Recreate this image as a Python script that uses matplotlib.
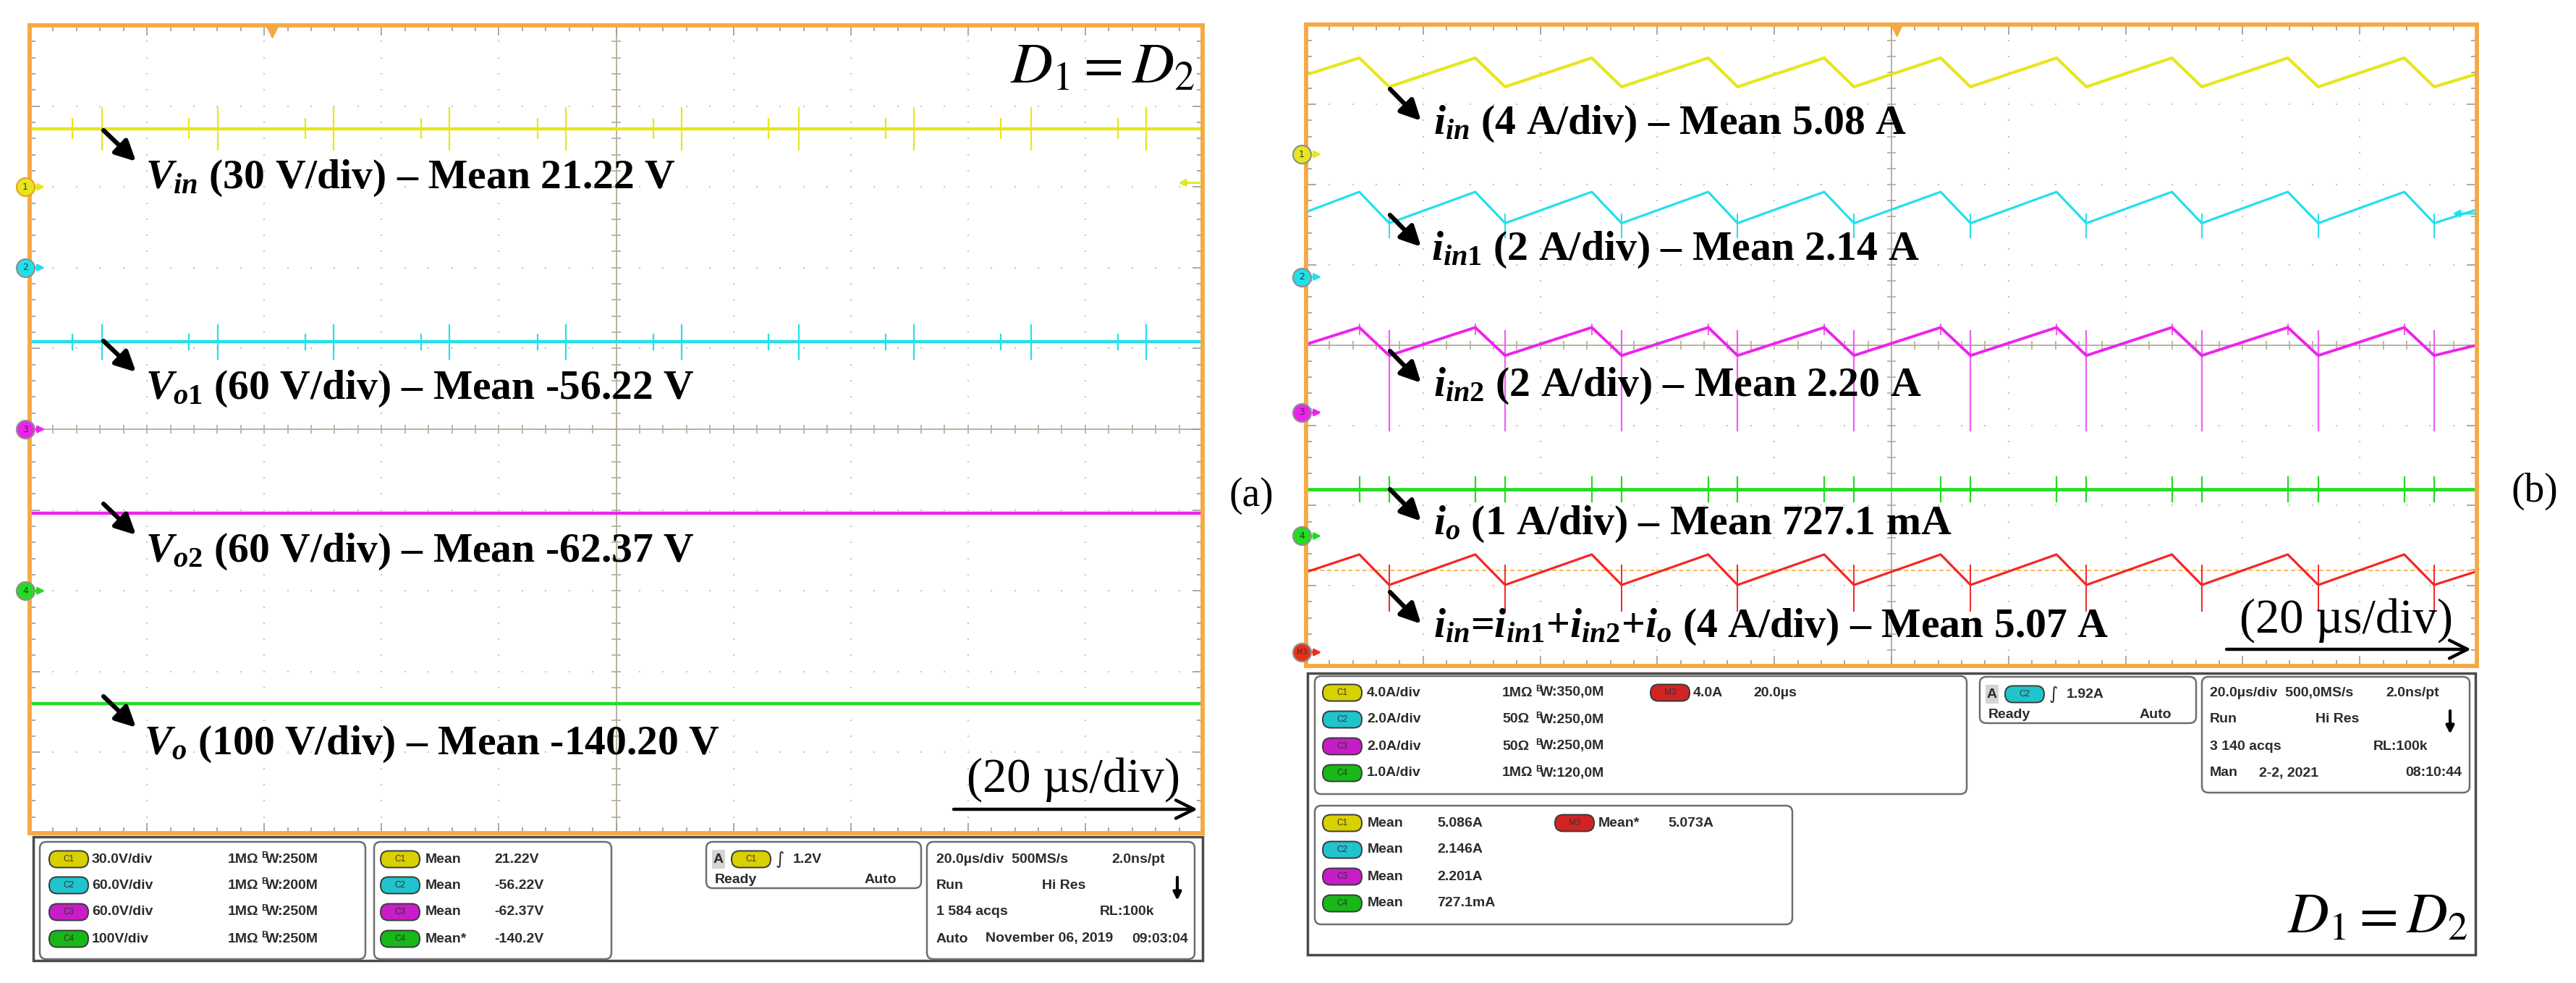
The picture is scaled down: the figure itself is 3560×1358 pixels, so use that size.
import numpy as np
import matplotlib
matplotlib.use('Agg')
import matplotlib.pyplot as plt
from matplotlib.patches import FancyBboxPatch, Rectangle

plt.rcParams['mathtext.fontset'] = 'custom'
plt.rcParams['mathtext.rm'] = 'Liberation Serif:bold'
plt.rcParams['mathtext.it'] = 'Liberation Serif:italic:bold'
plt.rcParams['mathtext.bf'] = 'Liberation Serif:bold'

W, H = 3560, 1358

# ---------------- data ----------------
# panel (a): DC levels in divisions from screen centre, 20 us/div
a_levels = [3.72, 1.08, -1.04, -3.40]          # Vin, Vo1, Vo2, Vo
a_marks = [3.0, 2.0, 0.0, -2.0]                # channel ground markers
a_big_spk_t = [12.3, 32.1, 51.8, 71.6, 91.4, 111.2, 131.2, 150.8, 170.8, 190.4]
a_small_spk_t = [7.3, 27.1, 47.0, 66.8, 86.6, 106.4, 126.0, 146.0, 165.6, 185.6]
a_big_amp = [0.27, 0.22, 0.0, 0.0]
a_small_amp = [0.13, 0.10, 0.0, 0.0]
a_labels = [r'$V_{in}$ (30 V/div) – Mean 21.22 V',
            r'$V_{o1}$ (60 V/div) – Mean -56.22 V',
            r'$V_{o2}$ (60 V/div) – Mean -62.37 V',
            r'$V_{o}$ (100 V/div) – Mean -140.20 V']

# panel (b): triangular currents, vertex times (us) and levels (div)
b_peak_t = [9.1, 28.9, 48.8, 68.7, 88.5, 108.4, 128.2, 147.9, 167.7, 187.6]
b_trough_t = [14.2, 34.0, 53.9, 73.7, 93.6, 113.5, 133.3, 153.0, 172.9, 192.7]
b_start = [3.37, 1.66, 0.01, -1.80, -2.83]
b_peak = [3.58, 1.91, 0.22, -1.80, -2.61]
b_trough = [3.22, 1.52, -0.13, -1.80, -2.99]
b_end = [3.38, 1.69, 0.00, -1.80, -2.82]
b_marks = [2.38, 0.85, -0.84, -2.38, -3.83]
b_labels = [r'$i_{in}$ (4 A/div) – Mean 5.08 A',
            r'$i_{in1}$ (2 A/div) – Mean 2.14 A',
            r'$i_{in2}$ (2 A/div) – Mean 2.20 A',
            r'$i_{o}$ (1 A/div) – Mean 727.1 mA',
            r'$i_{in}$=$i_{in1}$+$i_{in2}$+$i_{o}$ (4 A/div) – Mean 5.07 A']

a_setup = ['30.0V/div', '60.0V/div', '60.0V/div', '100V/div']
a_imp = ['1MΩ', '1MΩ', '1MΩ', '1MΩ']
a_bw = ['W:250M', 'W:200M', 'W:250M', 'W:250M']
a_meas = ['Mean', 'Mean', 'Mean', 'Mean*']
a_vals = ['21.22V', '-56.22V', '-62.37V', '-140.2V']
b_setup = ['4.0A/div', '2.0A/div', '2.0A/div', '1.0A/div']
b_imp = ['1MΩ', '50Ω', '50Ω', '1MΩ']
b_bw = ['W:350,0M', 'W:250,0M', 'W:250,0M', 'W:120,0M']
b_vals = ['5.086A', '2.146A', '2.201A', '727.1mA']

COLS = ['#E6E61E', '#22E0EA', '#EE22EE', '#22DD22', '#F52525']
BADGE = ['#D8D000', '#20C4CC', '#C81CC8', '#18B818', '#D02424']
ORANGE = '#F5A945'
TICK = '#9A9A9A'
CENTRE = '#B3AA98'
INFO = '#2B2B2B'


def px2fig(x0, y0, x1, y1):
    return [x0 / W, 1 - y1 / H, (x1 - x0) / W, (y1 - y0) / H]


fig = plt.figure(figsize=(W / 100, H / 100), dpi=100)
axa = fig.add_axes(px2fig(41, 35, 1662, 1151))
axb = fig.add_axes(px2fig(1805, 33.5, 3423, 920))
ov = fig.add_axes([0, 0, 1, 1])
ov.set_xlim(0, W)
ov.set_ylim(H, 0)
ov.axis('off')


def scope(ax, ndiv):
    half = ndiv / 2
    ax.set_xlim(0, 200)
    ax.set_ylim(-half, half)
    for s in ax.spines.values():
        s.set_color(ORANGE)
        s.set_linewidth(4.2)
        s.set_zorder(8)
    ax.set_xticks(np.arange(0, 201, 20))
    ax.set_xticks(np.arange(0, 201, 4), minor=True)
    ax.set_yticks(np.arange(-half, half + 0.01, 1))
    ax.set_yticks(np.arange(-half, half + 0.01, 0.2), minor=True)
    ax.tick_params(which='both', direction='in', top=True, right=True,
                   labelbottom=False, labelleft=False, color=TICK, width=1.2)
    ax.tick_params(which='major', length=10)
    ax.tick_params(which='minor', length=6)
    gx = np.arange(20, 200, 20)
    gy = np.arange(-half + 1, half, 1)
    mx = np.arange(4, 200, 4)
    my = np.arange(-half + 0.2, half - 0.1, 0.2)
    x1, y1 = np.meshgrid(gx, my)
    x2, y2 = np.meshgrid(mx, gy)
    ax.scatter(np.r_[x1.ravel(), x2.ravel()], np.r_[y1.ravel(), y2.ravel()],
               s=4, marker='s', color='#C4C4C4', lw=0, zorder=1)
    ax.axhline(0, color=CENTRE, lw=1.3, zorder=1)
    ax.axvline(100, color=CENTRE, lw=1.3, zorder=1)
    ax.vlines(mx, -0.055, 0.055, color=CENTRE, lw=1.2, zorder=1)
    ax.hlines(my, 99.25, 100.75, color=CENTRE, lw=1.2, zorder=1)


def chan_marker(ax, y, label, face, edge, wpx):
    tr = ax.get_yaxis_transform()
    ax.annotate('', xy=(24 / wpx, y), xytext=(2 / wpx, y), xycoords=tr, textcoords=tr,
                arrowprops=dict(arrowstyle='-|>', color=face, lw=2, mutation_scale=14),
                annotation_clip=False, zorder=9)
    ax.plot([-6 / wpx], [y], 'o', ms=18, mfc=face, mec=edge, mew=1.6,
            transform=tr, clip_on=False, zorder=10)
    ax.text(-6 / wpx, y, label, transform=tr, ha='center', va='center',
            fontsize=9 if len(label) == 1 else 7, color='#333333', zorder=11)


# ---------------- panel (a) ----------------
scope(axa, 10)
for i, lev in enumerate(a_levels):
    axa.axhline(lev, color=COLS[i], lw=3.2, zorder=3)
    if a_big_amp[i] > 0:
        axa.vlines(a_big_spk_t, lev - a_big_amp[i], lev + a_big_amp[i], color=COLS[i], lw=1.6, zorder=3)
        axa.vlines(a_small_spk_t, lev - a_small_amp[i], lev + a_small_amp[i], color=COLS[i], lw=1.6, zorder=3)
for i, m in enumerate(a_marks):
    chan_marker(axa, m, str(i + 1), COLS[i], '#F0A020' if i == 0 else '#909090', 1621)
axa.plot([41.3], [4.93], 'v', ms=13, color=ORANGE, zorder=9, clip_on=False)
axa.annotate('', xy=(195.5, 3.05), xytext=(200, 3.05),
             arrowprops=dict(arrowstyle='-|>', color=COLS[0], lw=2, mutation_scale=14), zorder=9)

# ---------------- panel (b) ----------------
scope(axb, 8)
for i in range(5):
    if i == 3:
        axb.axhline(b_start[i], color=COLS[i], lw=3.4, zorder=3)
        axb.vlines(b_peak_t + b_trough_t, b_start[i] - 0.16, b_start[i] + 0.16, color=COLS[i], lw=1.6, zorder=3)
        continue
    ts = [0.0]
    vs = [b_start[i]]
    for tp, tt in zip(b_peak_t, b_trough_t):
        ts += [tp, tt]
        vs += [b_peak[i], b_trough[i]]
    ts.append(200.0)
    vs.append(b_end[i])
    axb.plot(ts, vs, color=COLS[i], lw=[3.0, 2.3, 2.8, 0, 2.3][i], zorder=4)
axb.vlines(b_trough_t, b_trough[1] - 0.19, b_trough[1] + 0.12, color=COLS[1], lw=1.4, zorder=3)
axb.vlines(b_trough_t, b_trough[2] - 0.95, b_trough[2] + 0.32, color='#F060F0', lw=1.6, zorder=3)
axb.vlines(b_peak_t, b_peak[2] - 0.1, b_peak[2] + 0.05, color='#F060F0', lw=1.4, zorder=3)
axb.vlines(b_trough_t, b_trough[4] - 0.33, b_trough[4] + 0.25, color=COLS[4], lw=1.4, zorder=3)
axb.axhline(-2.81, color='#F7B955', lw=1.4, ls=(0, (3, 2)), zorder=2)
for i, m in enumerate(b_marks):
    lab = 'M3' if i == 4 else str(i + 1)
    chan_marker(axb, m, lab, COLS[i] if i < 4 else '#E83018', '#909090', 1618)
axb.plot([100.9], [3.93], 'v', ms=13, color=ORANGE, zorder=9, clip_on=False)
axb.annotate('', xy=(195.5, 1.64), xytext=(200, 1.64),
             arrowprops=dict(arrowstyle='-|>', color=COLS[1], lw=2, mutation_scale=14), zorder=9)

# ---------------- annotations (pixel coords) ----------------
renderer = fig.canvas.get_renderer()


def fit(t, width):
    w = t.get_window_extent(renderer).width
    t.set_fontsize(t.get_fontsize() * width / w)
    return t.get_fontsize()


def big_arrow(x0, y0, x1, y1):
    ov.annotate('', xy=(x1, y1), xytext=(x0, y0),
                arrowprops=dict(arrowstyle='-|>', color='black', lw=4.5, mutation_scale=42,
                                shrinkA=0, shrinkB=0))


lab_kw = dict(family='Liberation Serif', fontweight='bold', color='black', va='baseline', ha='left')
a_pos = [(201, 260), (201, 551), (201, 776), (199, 1042)]
t0 = ov.text(a_pos[0][0], a_pos[0][1], a_labels[0], fontsize=40, **lab_kw)
fs_a = fit(t0, 732)
for (x, y), s in zip(a_pos[1:], a_labels[1:]):
    ov.text(x, y, s, fontsize=fs_a, **lab_kw)
for x, y in a_pos:
    big_arrow(143, y - 80, 188, y - 37)

b_pos = [(1981, 185), (1978, 359), (1981, 547), (1981, 738), (1981, 880)]
t1 = ov.text(b_pos[0][0], b_pos[0][1], b_labels[0], fontsize=38, **lab_kw)
fs_b = fit(t1, 654)
for (x, y), s in zip(b_pos[1:], b_labels[1:]):
    ov.text(x, y, s, fontsize=fs_b, **lab_kw)
for x, y in b_pos:
    big_arrow(1921, y - 62, 1964, y - 18)

# time/div notes
for (x, y, ax0, ax1, ay) in [(1336, 1094, 1318, 1655, 1118), (3095, 874, 3077, 3415, 897)]:
    t = ov.text(x, y, '(20 µs/div)', family='Liberation Serif', fontsize=44, va='baseline', ha='left')
    fit(t, 295)
    ov.annotate('', xy=(ax1, ay), xytext=(ax0, ay),
                arrowprops=dict(arrowstyle='->', color='black', lw=3.2, mutation_scale=45,
                                shrinkA=0, shrinkB=0))

for (x0, x1, y) in [(1396, 1651, 113), (3161, 3410, 1287)]:
    t = ov.text(x1, y, r'$D_1 = D_2$', math_fontfamily='stix', fontsize=60,
                va='baseline', ha='right', color='black')
    fit(t, x1 - x0)

ov.text(1729, 685, '(a)', family='Liberation Serif', fontsize=40, ha='center', va='center')
ov.text(3503, 679, '(b)', family='Liberation Serif', fontsize=40, ha='center', va='center')

# ---------------- scope info panels ----------------
info_kw = dict(family='Liberation Sans', fontweight='bold', fontsize=14, color=INFO, va='center', ha='left')


def rbox(x0, y0, x1, y1):
    ov.add_patch(FancyBboxPatch((x0, y0), x1 - x0, y1 - y0,
                                boxstyle='round,pad=0,rounding_size=9',
                                fc='white', ec='#6E6E6E', lw=1.8))


def badge(xc, y, label, color):
    w, h = 54, 23
    ov.add_patch(FancyBboxPatch((xc - w / 2, y - h / 2), w, h,
                                boxstyle='round,pad=0,rounding_size=11',
                                fc=color, ec='#3A3A3A', lw=1.4, zorder=3))
    ov.text(xc, y, label, ha='center', va='center', fontsize=8.5, color='#333333',
            family='Liberation Sans', zorder=4)


def bw(x, y, s):
    ov.text(x, y - 5, 'B', fontsize=9, family='Liberation Sans', fontweight='bold',
            color=INFO, va='center', ha='left')
    ov.text(x + 6, y, s, **info_kw)


def down_arrow(x, y):
    ov.annotate('', xy=(x, y + 16), xytext=(x, y - 16),
                arrowprops=dict(arrowstyle='-|>', color='black', lw=3, mutation_scale=16,
                                shrinkA=0, shrinkB=0))


def trigger_box(x0, y0, x1, y1, chan, level):
    rbox(x0, y0, x1, y1)
    r1 = y0 + 24
    r2 = y0 + 53
    ov.add_patch(Rectangle((x0 + 8, r1 - 13), 18, 26, fc='#D4D4D4', ec='none'))
    ov.text(x0 + 17, r1, 'A', ha='center', **{k: v for k, v in info_kw.items() if k != 'ha'})
    badge(x0 + 62, r1, 'C%d' % (chan + 1), BADGE[chan])
    ov.text(x0 + 96, r1, '∫', family='DejaVu Sans', fontsize=17, color=INFO, va='center')
    ov.text(x0 + 120, r1, level, **info_kw)
    ov.text(x0 + 12, r2, 'Ready', **info_kw)
    ov.text(x1 - 78, r2, 'Auto', **info_kw)


# panel (a) info
ov.add_patch(Rectangle((46, 1156), 1616, 171, fc='white', ec='#4A4A4A', lw=2.5))
rbox(55, 1163, 505, 1325)
rbox(517, 1163, 845, 1325)
rows_a = [1187, 1223, 1260, 1297]
for i, y in enumerate(rows_a):
    badge(95, y, 'C%d' % (i + 1), BADGE[i])
    ov.text(127, y, a_setup[i], **info_kw)
    ov.text(315, y, a_imp[i], **info_kw)
    bw(361, y, a_bw[i])
    badge(553, y, 'C%d' % (i + 1), BADGE[i])
    ov.text(588, y, a_meas[i], **info_kw)
    ov.text(683, y, a_vals[i], **info_kw)
trigger_box(976, 1163, 1273, 1227, 0, '1.2V')
rbox(1281, 1163, 1651, 1325)
ov.text(1294, rows_a[0], '20.0µs/div  500MS/s', **info_kw)
ov.text(1536, rows_a[0], '2.0ns/pt', **info_kw)
ov.text(1294, rows_a[1], 'Run', **info_kw)
ov.text(1440, rows_a[1], 'Hi Res', **info_kw)
down_arrow(1627, 1228)
ov.text(1294, rows_a[2], '1 584 acqs', **info_kw)
ov.text(1520, rows_a[2], 'RL:100k', **info_kw)
ov.text(1294, rows_a[3], 'Auto', **info_kw)
ov.text(1362, rows_a[3], 'November 06, 2019', **info_kw)
ov.text(1564, rows_a[3], '09:03:04', **info_kw)

# panel (b) info
ov.add_patch(Rectangle((1807, 930), 1614, 389, fc='white', ec='#4A4A4A', lw=2.5))
rbox(1817, 934, 2718, 1097)
rbox(1817, 1113, 2477, 1277)
rows_b1 = [957, 994, 1031, 1068]
rows_b2 = [1137, 1174, 1211, 1248]
for i in range(4):
    badge(1855, rows_b1[i], 'C%d' % (i + 1), BADGE[i])
    ov.text(1889, rows_b1[i], b_setup[i], **info_kw)
    ov.text(2076, rows_b1[i], b_imp[i], **info_kw)
    bw(2122, rows_b1[i], b_bw[i])
    badge(1855, rows_b2[i], 'C%d' % (i + 1), BADGE[i])
    ov.text(1890, rows_b2[i], 'Mean', **info_kw)
    ov.text(1986, rows_b2[i], b_vals[i], **info_kw)
badge(2308, rows_b1[0], 'M3', BADGE[4])
ov.text(2340, rows_b1[0], '4.0A', **info_kw)
ov.text(2423, rows_b1[0], '20.0µs', **info_kw)
badge(2176, rows_b2[0], 'M3', BADGE[4])
ov.text(2209, rows_b2[0], 'Mean*', **info_kw)
ov.text(2305, rows_b2[0], '5.073A', **info_kw)
trigger_box(2736, 935, 3035, 999, 1, '1.92A')
rbox(3043, 935, 3413, 1095)
ov.text(3054, rows_b1[0], '20.0µs/div  500,0MS/s', **info_kw)
ov.text(3297, rows_b1[0], '2.0ns/pt', **info_kw)
ov.text(3054, rows_b1[1], 'Run', **info_kw)
ov.text(3200, rows_b1[1], 'Hi Res', **info_kw)
down_arrow(3386, 998)
ov.text(3054, rows_b1[2], '3 140 acqs', **info_kw)
ov.text(3280, rows_b1[2], 'RL:100k', **info_kw)
ov.text(3054, rows_b1[3], 'Man', **info_kw)
ov.text(3122, rows_b1[3], '2-2, 2021', **info_kw)
ov.text(3324, rows_b1[3], '08:10:44', **info_kw)

fig.savefig('out.png', dpi=100, facecolor='white')
